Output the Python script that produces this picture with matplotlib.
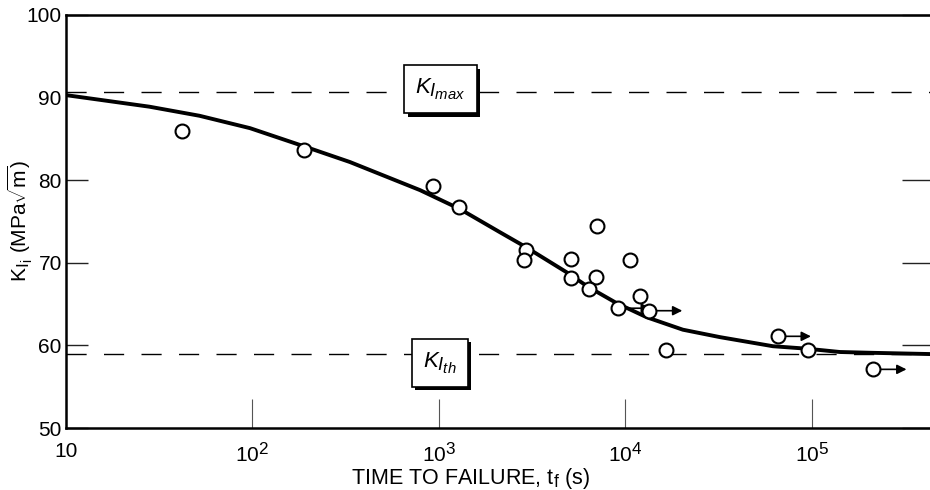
import matplotlib
matplotlib.use("Agg")
import matplotlib.pyplot as plt
import matplotlib.patheffects as pe
import matplotlib._mathtext as mt
from matplotlib.ticker import FixedLocator, FuncFormatter, NullLocator

# the original typesetting uses fairly big sub/superscripts
mt.SHRINK_FACTOR = 0.82

plt.rcParams['font.family'] = ['Liberation Sans', 'DejaVu Sans']
plt.rcParams['mathtext.fontset'] = 'custom'
plt.rcParams['mathtext.rm'] = 'Liberation Sans'
plt.rcParams['mathtext.it'] = 'Liberation Sans:italic'

# measured points (time to failure in s, K_Ii in MPa sqrt(m))
t_pts = [42, 190, 930, 1285, 2930, 2865, 5100, 5100, 7020, 6950, 6350,
         10570, 9080, 11970, 13370, 16480, 65450, 95500, 213000]
k_pts = [86.0, 83.7, 79.3, 76.7, 71.6, 70.3, 70.4, 68.1, 74.5, 68.3, 66.8,
         70.3, 64.5, 66.0, 64.2, 59.4, 61.1, 59.4, 57.1]
# runouts (test still running) get an arrow
runout = [False, False, False, False, False, False, False, False, False, False, False,
          False, True, False, True, False, True, False, True]

# fitted curve
t_fit = [10, 28, 52, 97, 189, 333, 791, 1297, 2123, 2924, 4800, 6295, 8995,
         13030, 20320, 32140, 61800, 94000, 141300, 212300, 435000]
k_fit = [90.3, 88.9, 87.8, 86.3, 84.1, 82.2, 78.8, 76.5, 73.7, 71.9, 68.9, 67.1, 65.1,
         63.4, 61.9, 61.0, 59.9, 59.6, 59.2, 59.1, 58.95]

k_imax = 90.7
k_ith = 59.0

xticks = [10, 1e2, 1e3, 1e4, 1e5]
xlabels = ['10', r'10$^2$', r'10$^3$', r'10$^4$', r'10$^5$']
yticks = [50, 60, 70, 80, 90, 100]

fig = plt.figure(figsize=(9.3, 4.9), dpi=100)
ax = fig.add_axes([66 / 930, 62 / 490, 865 / 930, 413 / 490])

ax.set_xscale('log')
ax.set_xlim(10, 4.35e5)
ax.set_ylim(50, 100)

for k in (k_imax, k_ith):
    ax.axhline(k, color='black', lw=1.0, dashes=(14.5, 12.5), zorder=1)

ax.plot(t_fit, k_fit, color='black', lw=2.8, solid_joinstyle='round',
        solid_capstyle='round', zorder=2)

for t, k, r in zip(t_pts, k_pts, runout):
    if r:
        ax.annotate('', xy=(t, k), xytext=(24, 0), textcoords='offset points',
                    arrowprops=dict(arrowstyle='<|-', color='black', lw=1.2,
                                    mutation_scale=14, shrinkA=0, shrinkB=4),
                    zorder=3)

ax.plot(t_pts, k_pts, 'o', ms=10, mfc='white', mec='black', mew=1.5, zorder=4)

box = dict(boxstyle='square,pad=0.5', fc='white', ec='black', lw=1.2)
shadow = [pe.SimplePatchShadow(offset=(2.5, -2.5), shadow_rgbFace='black', alpha=1.0),
          pe.Normal()]
for label, t, k in ((r'$K_{I_{max}}$', 1020, 91.0), (r'$K_{I_{th}}$', 1010, 57.9)):
    txt = ax.text(t, k, label, fontsize=16, ha='center', va='center',
                  bbox=box, zorder=5)
    txt.get_bbox_patch().set_path_effects(shadow)

ax.xaxis.set_major_locator(FixedLocator(xticks))
ax.xaxis.set_minor_locator(NullLocator())
ax.xaxis.set_major_formatter(FuncFormatter(lambda v, p: xlabels[xticks.index(v)] if v in xticks else ''))
ax.set_yticks(yticks)

ax.tick_params(axis='x', direction='in', length=21, width=0.8, color='#555555',
               labelsize=15, pad=10)
ax.tick_params(axis='y', direction='in', length=16, width=1.0, color='#222222',
               labelsize=15, pad=3, right=True)
ylines = ax.yaxis.get_ticklines()
for tl in ylines[1::2]:
    tl.set_markersize(21)
    tl.set_color('#777777')
# the 90 tick sits under the K_Imax dashed line
ylines[2 * yticks.index(90)].set_visible(False)
ylines[2 * yticks.index(90) + 1].set_visible(False)

for s in ax.spines.values():
    s.set_linewidth(1.8)

fig.text(20 / 930, 1 - 221 / 490, r'K$_{\mathregular{I_i}}$ (MPa$\mathregular{\sqrt{m}}$)',
         fontsize=15, rotation=90, ha='center', va='center')
fig.text(471 / 930, 1 - 478 / 490, r'TIME TO FAILURE, t$_\mathregular{f}$ (s)',
         fontsize=15.5, ha='center', va='center')

fig.savefig('out.png', dpi=100)
